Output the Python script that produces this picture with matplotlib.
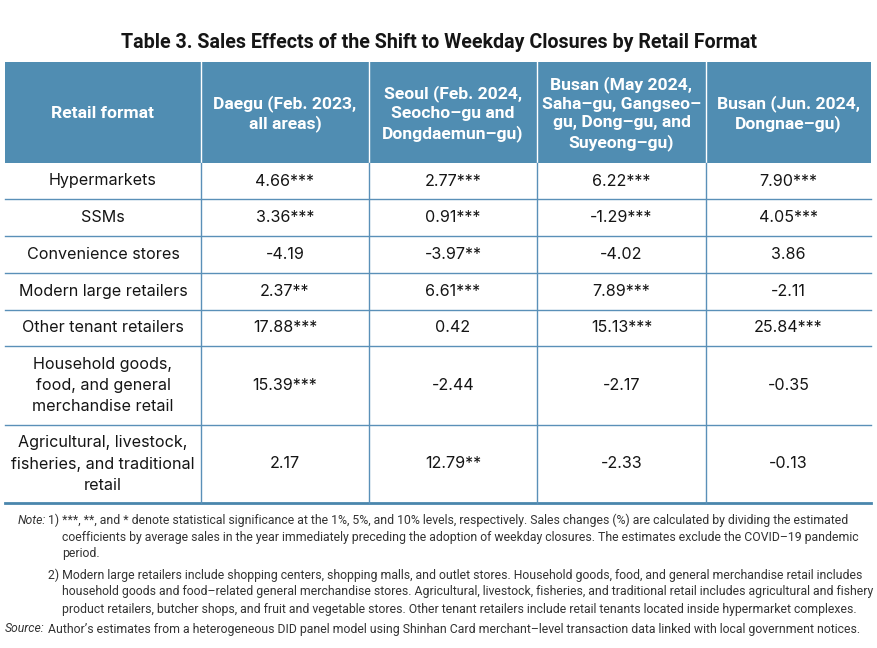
import matplotlib
matplotlib.use("Agg")
import matplotlib.pyplot as plt
from matplotlib.patches import Rectangle

# table content
title = "Table 3. Sales Effects of the Shift to Weekday Closures by Retail Format"

col_headers = [
    "Retail format",
    "Daegu (Feb. 2023,\nall areas)",
    "Seoul (Feb. 2024,\nSeocho\u2013gu and\nDongdaemun\u2013gu)",
    "Busan (May 2024,\nSaha\u2013gu, Gangseo\u2013\ngu, Dong\u2013gu, and\nSuyeong\u2013gu)",
    "Busan (Jun. 2024,\nDongnae\u2013gu)",
]

row_labels = [
    "Hypermarkets",
    "SSMs",
    "Convenience stores",
    "Modern large retailers",
    "Other tenant retailers",
    "Household goods,\nfood, and general\nmerchandise retail",
    "Agricultural, livestock,\nfisheries, and traditional\nretail",
]

daegu = ["4.66***", "3.36***", "-4.19", "2.37**", "17.88***", "15.39***", "2.17"]
seoul = ["2.77***", "0.91***", "-3.97**", "6.61***", "0.42", "-2.44", "12.79**"]
busan_may = ["6.22***", "-1.29***", "-4.02", "7.89***", "15.13***", "-2.17", "-2.33"]
busan_jun = ["7.90***", "4.05***", "3.86", "-2.11", "25.84***", "-0.35", "-0.13"]

note1 = ("1) ***, **, and * denote statistical significance at the 1%, 5%, and 10% levels, respectively. "
         "Sales changes (%) are calculated by dividing the estimated")
note1b = ["coefficients by average sales in the year immediately preceding the adoption of weekday closures. "
          "The estimates exclude the COVID\u201319 pandemic", "period."]
note2 = ("2) Modern large retailers include shopping centers, shopping malls, and outlet stores. "
         "Household goods, food, and general merchandise retail includes")
note2b = ["household goods and food\u2013related general merchandise stores. Agricultural, livestock, fisheries, "
          "and traditional retail includes agricultural and fishery",
          "product retailers, butcher shops, and fruit and vegetable stores. Other tenant retailers include "
          "retail tenants located inside hypermarket complexes."]
source = ("Author\u2019s estimates from a heterogeneous DID panel model using Shinhan Card "
          "merchant\u2013level transaction data linked with local government notices.")

# layout (pixels)
W, H = 878, 648
col_edges = [5, 201, 369, 537, 706, 871]
row_edges = [163, 199, 236, 273, 310, 346, 425, 503]
head_top = 62

head_color = "#508db2"
line_color = "#5a90b8"
text_color = "#151515"

body_font = ["Inter", "DejaVu Sans"]
bold_font = ["Roboto", "DejaVu Sans"]
note_font = ["Roboto", "DejaVu Sans"]

fig = plt.figure(figsize=(W / 100, H / 100), dpi=100)
ax = fig.add_axes([0, 0, 1, 1])
ax.set_xlim(0, W)
ax.set_ylim(H, 0)
ax.axis("off")
renderer = fig.canvas.get_renderer()


def fit_width(t, target):
    # shrink/grow the font so the text spans the target width in pixels
    w = t.get_window_extent(renderer).width
    t.set_fontsize(t.get_fontsize() * target / w)
    return t.get_fontsize()


# title
tt = ax.text(439, 42, title, ha="center", va="center", fontsize=14, fontweight="bold",
             color=text_color, family=bold_font)
fit_width(tt, 637)

# header
ax.add_patch(Rectangle((col_edges[0], head_top), col_edges[-1] - col_edges[0],
                       row_edges[0] - head_top, color=head_color, lw=0))
for x in col_edges[1:-1]:
    ax.plot([x, x], [head_top, row_edges[0]], color="white", lw=1)
for i, h in enumerate(col_headers):
    cx = (col_edges[i] + col_edges[i + 1]) / 2
    ax.text(cx, (head_top + row_edges[0]) / 2 + 1, h, ha="center", va="center",
            fontsize=12.6, fontweight="bold", color="white", linespacing=1.3,
            family=bold_font)

# body
columns = [row_labels, daegu, seoul, busan_may, busan_jun]
for r in range(len(row_labels)):
    cy = (row_edges[r] + row_edges[r + 1]) / 2
    for c, col in enumerate(columns):
        cx = (col_edges[c] + col_edges[c + 1]) / 2
        ax.text(cx, cy, col[r], ha="center", va="center", fontsize=11.6,
                color=text_color, linespacing=1.5, family=body_font)

for y in row_edges[1:-1]:
    ax.plot([col_edges[0], col_edges[-1]], [y, y], color=line_color, lw=1)
ax.plot([col_edges[0], col_edges[-1]], [row_edges[-1], row_edges[-1]], color="#4a86ad", lw=2)
for x in col_edges[1:-1]:
    ax.plot([x, x], [row_edges[0], row_edges[-1]], color=line_color, lw=1)

# notes
ncol = "#333333"
t1 = ax.text(48, 520, note1, ha="left", va="center", fontsize=9, color=ncol, family=note_font)
nsize = fit_width(t1, 805)
ax.text(46, 520, "Note:", ha="right", va="center", fontsize=nsize, style="italic",
        color=ncol, family=note_font)
for k, t in enumerate(note1b):
    ax.text(62, 537 + 17 * k, t, ha="left", va="center", fontsize=nsize, color=ncol, family=note_font)
ax.text(48, 575, note2, ha="left", va="center", fontsize=nsize, color=ncol, family=note_font)
for k, t in enumerate(note2b):
    ax.text(62, 592 + 17 * k, t, ha="left", va="center", fontsize=nsize, color=ncol, family=note_font)
ax.text(5, 629, "Source:", ha="left", va="center", fontsize=nsize, style="italic",
        color=ncol, family=note_font)
ax.text(48, 629, source, ha="left", va="center", fontsize=nsize, color=ncol, family=note_font)

fig.savefig("out.png", dpi=100)
